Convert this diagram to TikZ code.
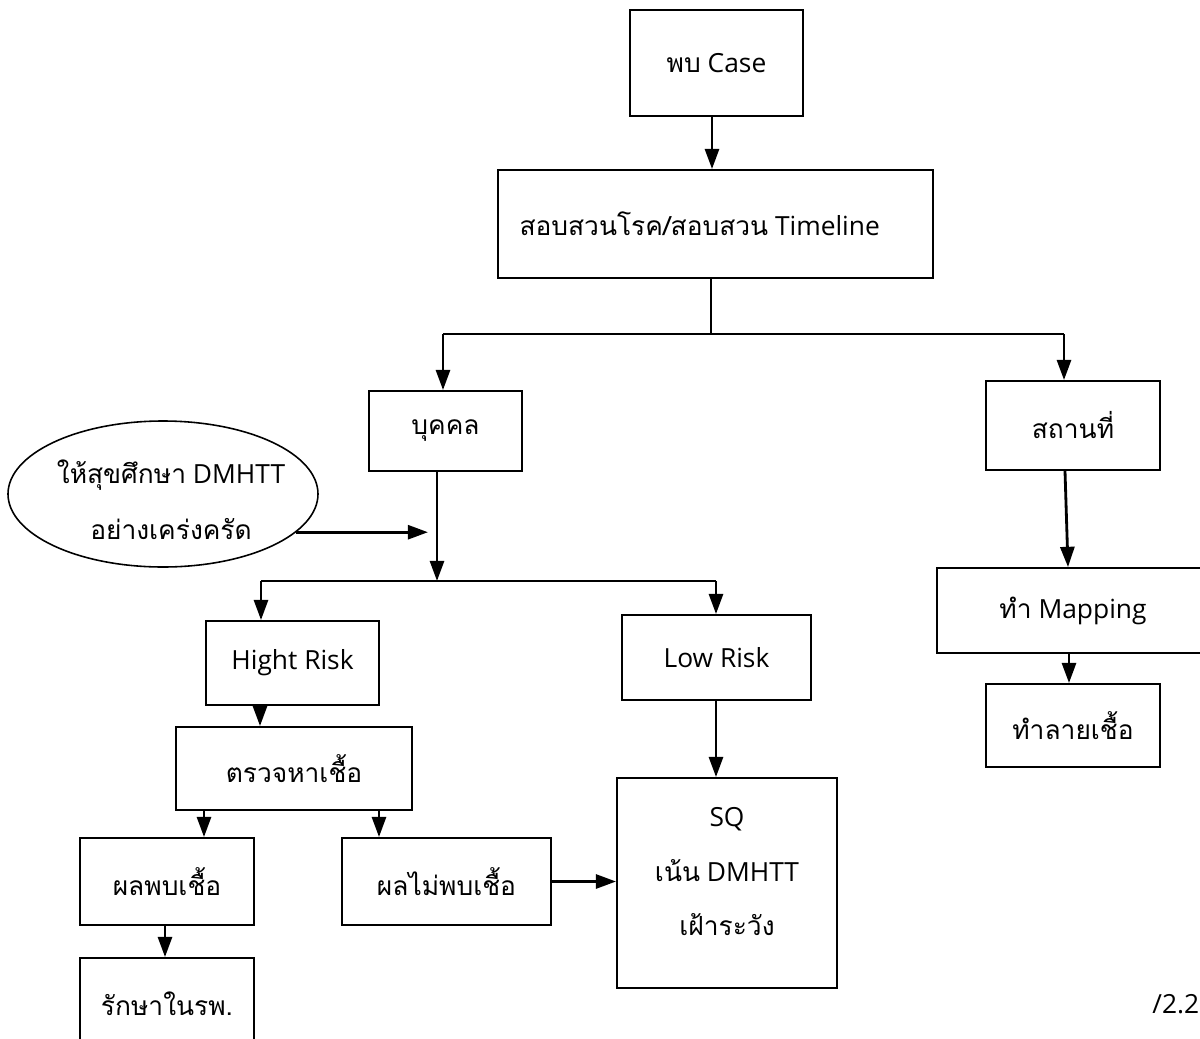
\documentclass[tikz,border=0pt]{standalone}
\usepackage{fontspec}
\setmainfont{Open Sans}
\newfontfamily\thai[Script=Thai]{Loma}
\usetikzlibrary{arrows.meta,shapes.geometric}
\tikzset{
  box/.style={draw,line width=1.1pt,rectangle,inner sep=0pt,font=\fontsize{15}{18}\selectfont},
  conn/.style={line width=1.6pt,-{Triangle[length=11.5pt,width=8pt]}},
  plain/.style={line width=1.1pt},
}
\begin{document}
\begin{tikzpicture}[x=0.02cm,y=-0.02cm]
\clip (0,0) rectangle (1200,1038);
\fill[white] (0,0) rectangle (1200,1038);
\node[box,minimum width=173*0.02cm,minimum height=106*0.02cm] (case) at (716.5,63) {{\thai พบ} Case};
\node[box,minimum width=435*0.02cm,minimum height=108*0.02cm] (inv) at (715.5,224) {{\thai สอบสวนโรค/สอบสวน} Timeline\hspace*{18pt}};
\node[box,minimum width=153*0.02cm,minimum height=80*0.02cm] (person) at (445.5,431) {\thai บุคคล};
\node[box,minimum width=174*0.02cm,minimum height=89*0.02cm] (place) at (1073,425.5) {\thai สถานที่};
\node[draw,line width=0.9pt,ellipse,minimum width=310*0.02cm,minimum height=146*0.02cm,inner sep=0pt] (ell) at (163,494) {};
\node[font=\fontsize{15}{18}\selectfont,align=center,inner sep=0pt] (elltext) at (171,500) {{\thai ให้สุขศึกษา} DMHTT\\[14pt]\thai อย่างเคร่งครัด};
\node[box,minimum width=173*0.02cm,minimum height=84*0.02cm] (high) at (292.5,663) {Hight Risk};
\node[box,minimum width=189*0.02cm,minimum height=85*0.02cm] (low) at (716.5,657.5) {Low Risk};
\node[box,minimum width=236*0.02cm,minimum height=83*0.02cm] (test) at (294,768.5) {\thai ตรวจหาเชื้อ};
\node[box,minimum width=174*0.02cm,minimum height=87*0.02cm] (pos) at (167,881.5) {\thai ผลพบเชื้อ};
\node[box,minimum width=209*0.02cm,minimum height=87*0.02cm] (neg) at (446.5,881.5) {\thai ผลไม่พบเชื้อ};
\node[box,minimum width=174*0.02cm,minimum height=92*0.02cm] (treat) at (167,1004) {\thai รักษาในรพ.};
\node[box,minimum width=220*0.02cm,minimum height=210*0.02cm] (sq) at (727,883) {\raisebox{0pt}[\height][\dimexpr\depth+9pt\relax]{\begin{tabular}{@{}c@{}}SQ\\[13pt]{\thai เน้น} DMHTT\\[13pt]\thai เฝ้าระวัง\end{tabular}}};
\node[box,minimum width=272*0.02cm,minimum height=85*0.02cm] (map) at (1073,610.5) {{\thai ทำ} Mapping};
\node[box,minimum width=174*0.02cm,minimum height=83*0.02cm] (destroy) at (1073,725.5) {\thai ทำลายเชื้อ};
\node[font=\fontsize{15}{18}\selectfont,anchor=west,inner sep=0pt] (pg) at (1152,1004) {/2.2};
% coordinates
\coordinate (j1) at (711,334);
\coordinate (jl) at (443,334);
\coordinate (jr) at (1064,334);
\coordinate (j2) at (437,581);
\coordinate (hl) at (261,581);
\coordinate (lr) at (716,581);
\coordinate (e1) at (428,533);
\coordinate (a1) at (260,0);
\coordinate (a2) at (204,0);
\coordinate (a3) at (379,0);
\coordinate (a4) at (165,0);
\coordinate (a5) at (1065,0);
\coordinate (a5b) at (1068,0);
\coordinate (a6) at (1069,0);
\coordinate (a7) at (712,0);
% connectors
\draw[conn] (case.south -| a7) -- (inv.north -| a7);
\draw[plain] (inv.south -| j1) -- (j1);
\draw[plain] (jl) -- (jr);
\draw[conn] (jl) -- (person.north -| jl);
\draw[conn] (jr) -- (place.north -| jr);
\draw[conn] (person.south -| j2) -- (j2);
\draw[plain] (hl) -- (lr);
\draw[conn] (hl) -- (high.north -| hl);
\draw[conn] (lr) -- (low.north -| lr);
\draw[conn] (ell.-16.6) -- (ell.-16.6 -| e1);
\draw[conn] (high.south -| a1) -- (test.north -| a1);
\draw[conn] (test.south -| a2) -- (pos.north -| a2);
\draw[conn] (test.south -| a3) -- (neg.north -| a3);
\draw[conn] (pos.south -| a4) -- (treat.north -| a4);
\draw[conn] (neg.east) -- (neg.east -| sq.west);
\draw[conn] (low.south -| lr) -- (sq.north -| lr);
\draw[conn] (place.south -| a5) -- (map.north -| a5b);
\draw[conn] (map.south -| a6) -- (destroy.north -| a6);
\end{tikzpicture}
\end{document}
